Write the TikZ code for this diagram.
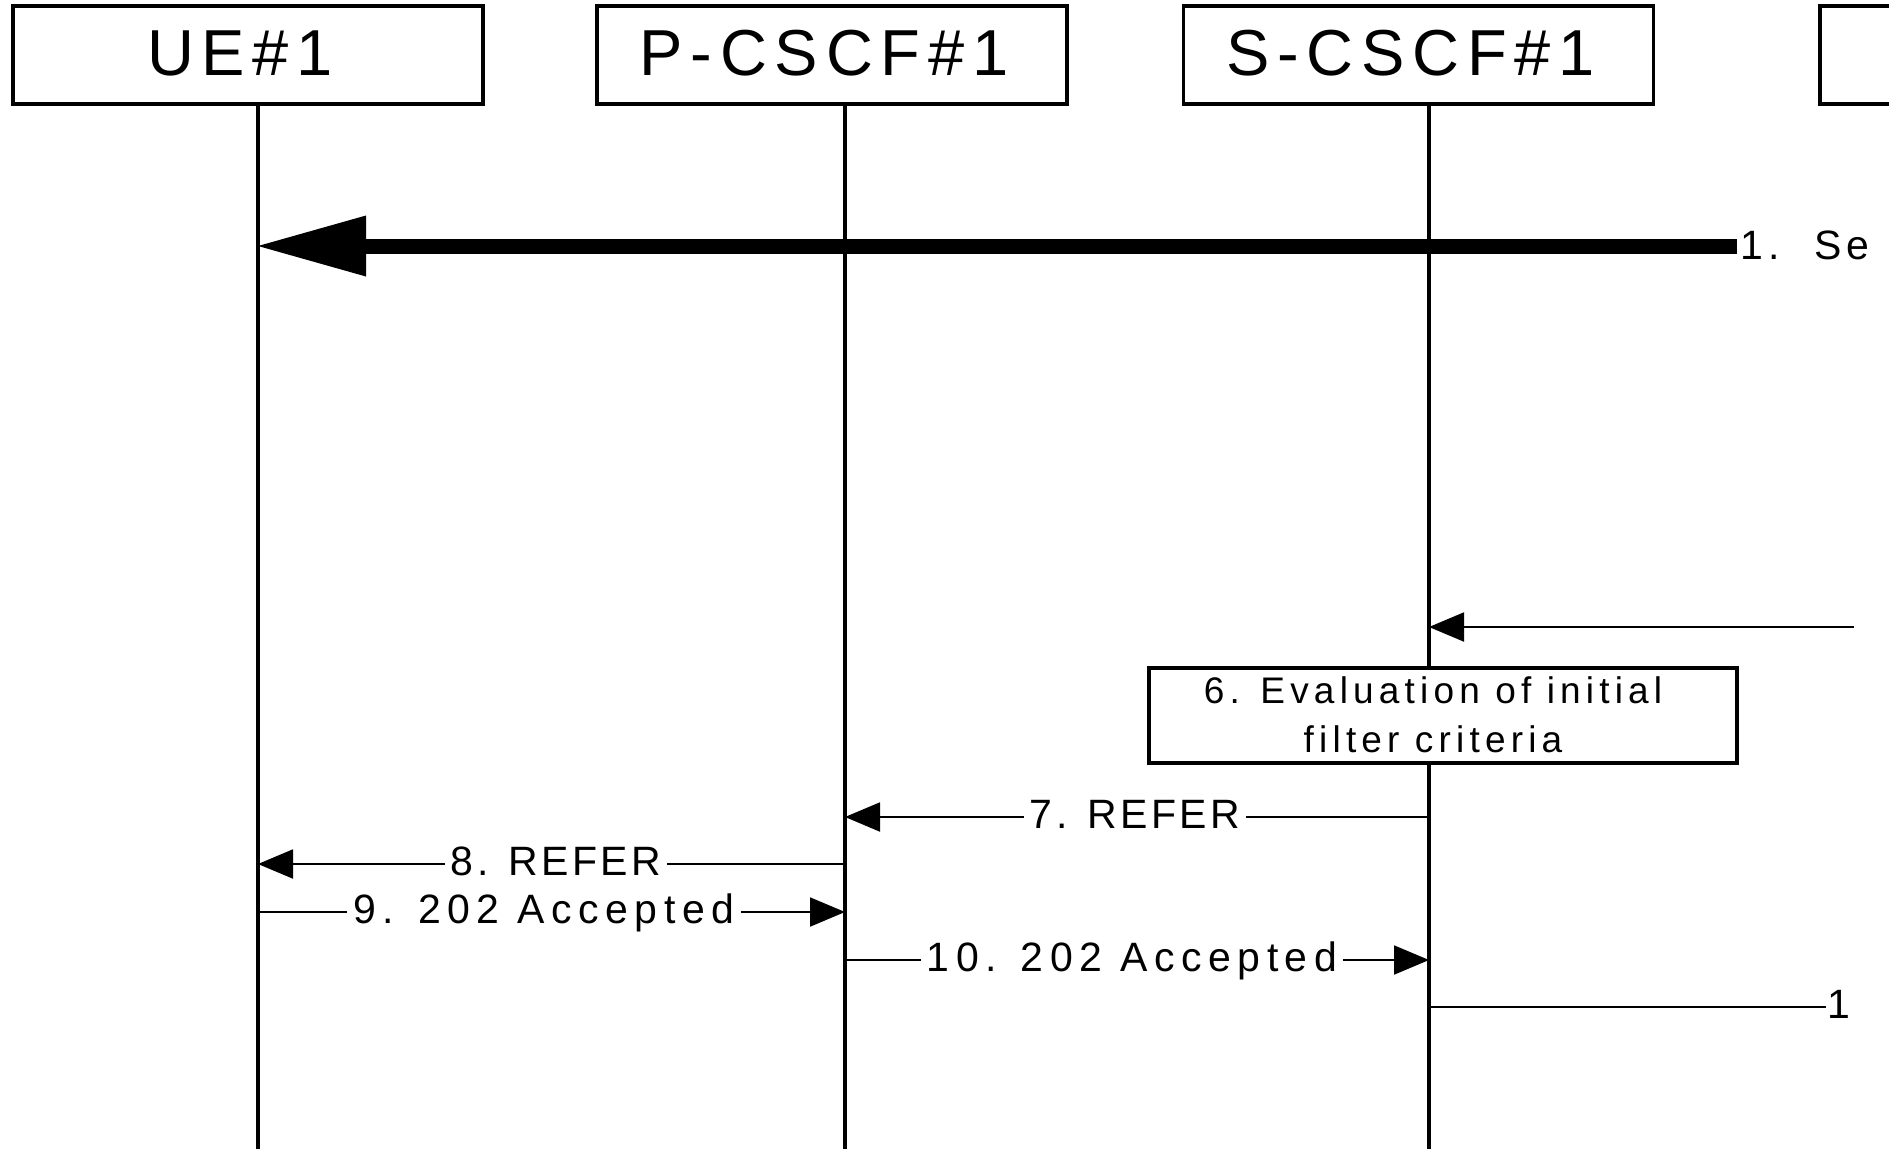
\documentclass[tikz,border=0pt]{standalone}
\usepackage{fontspec}
\setmainfont{Liberation Sans}[LetterSpace=12]
\usetikzlibrary{arrows.meta}
\begin{document}
\begin{tikzpicture}[x=1pt,y=-1pt,
  hdr/.style={draw,line width=3.5pt,fill=white,minimum width=470pt,minimum height=98pt,inner sep=0pt},
  hdrtxt/.style={inner sep=0pt,font=\fontsize{65}{78}\selectfont,text height=47pt,text depth=7pt},
  life/.style={line width=4pt},
  thin/.style={line width=2pt},
  tip/.style={-{Triangle[length=35pt,width=29pt]}},
  msgfont/.style={font=\fontsize{41}{49}\selectfont},
  lbl/.style={msgfont,fill=white,inner xsep=6pt,inner ysep=2pt,text height=29.5pt,text depth=0pt},
  big/.style={line width=15pt,-{Triangle[length=108pt,width=61pt,line width=0pt]}},
  evalbox/.style={draw,line width=4pt,fill=white,minimum width=588pt,minimum height=95pt,inner sep=0pt},
]
\useasboundingbox (0,0) rectangle (1889,1149);
\clip (0,0) rectangle (1889,1149);

% rows and lifeline columns
\coordinate (bot) at (0,1149);
\coordinate (r1) at (0,246);
\coordinate (r5) at (0,627);
\coordinate (r7) at (0,817);
\coordinate (r8) at (0,864);
\coordinate (r9) at (0,912);
\coordinate (r10) at (0,960);
\coordinate (r11) at (0,1007);
\coordinate (xu) at (258,0);
\coordinate (xp) at (845,0);
\coordinate (xs) at (1429,0);

% headers
\node[hdr] (ue) at (248,55) {};
\node[hdr] (pcscf) at (832,55) {};
\node[hdr] (scscf) at (1418.5,55) {};
\node[hdr] (as) at (2055,55) {};
\node[hdrtxt] (uet) at ([xshift=-8pt]ue.center) {UE\#1};
\node[hdrtxt] (pcscft) at ([xshift=-8pt]pcscf.center) {P-CSCF\#1};
\node[hdrtxt] (scscft) at ([xshift=-8pt]scscf.center) {S-CSCF\#1};

% lifelines
\draw[life] (ue.south -| xu) -- (xu |- bot);
\draw[life] (pcscf.south -| xp) -- (xp |- bot);
\draw[life] (scscf.south -| xs) -- (xs |- bot);

% 1
\coordinate (m1) at (1737,246);
\draw[big] (m1) -- (xu |- r1);
\node[msgfont,anchor=base west,inner sep=0pt] (l1) at (1740.5,259) {1. \kern13pt Se};

% 5
\coordinate (m5) at (1854,627);
\draw[thin,tip] (m5) -- (xs |- r5);

% 6
\node[evalbox] (eval) at (1443,715.5) {};
\node[align=center,font=\fontsize{37}{49}\selectfont\addfontfeature{LetterSpace=14},inner sep=0pt] (evaltxt) at (1433,714.5)
  {6. Evaluation of initial\\filter criteria};

% 7-10
\draw[thin,tip] (xs |- r7) -- node[lbl,xshift=-2pt,yshift=3pt] (l7) {\addfontfeature{LetterSpace=8.5}7. REFER} (xp |- r7);
\draw[thin,tip] (xp |- r8) -- node[lbl,xshift=4.5pt,yshift=3pt] (l8) {\addfontfeature{LetterSpace=8.5}8. REFER} (xu |- r8);
\draw[thin,tip] (xu |- r9) -- node[lbl,xshift=-7.5pt,yshift=3pt] (l9) {\addfontfeature{LetterSpace=16}9. 202 Accepted} (xp |- r9);
\draw[thin,tip] (xp |- r10) -- node[lbl,xshift=-5pt,yshift=3pt] (l10) {\addfontfeature{LetterSpace=16}10. 202 Accepted} (xs |- r10);

% 11
\coordinate (m11) at (1826,1007);
\draw[thin] (xs |- r11) -- (m11);
\node[msgfont,anchor=base west,inner sep=0pt] (l11) at (1827.5,1018) {1};
\end{tikzpicture}
\end{document}
